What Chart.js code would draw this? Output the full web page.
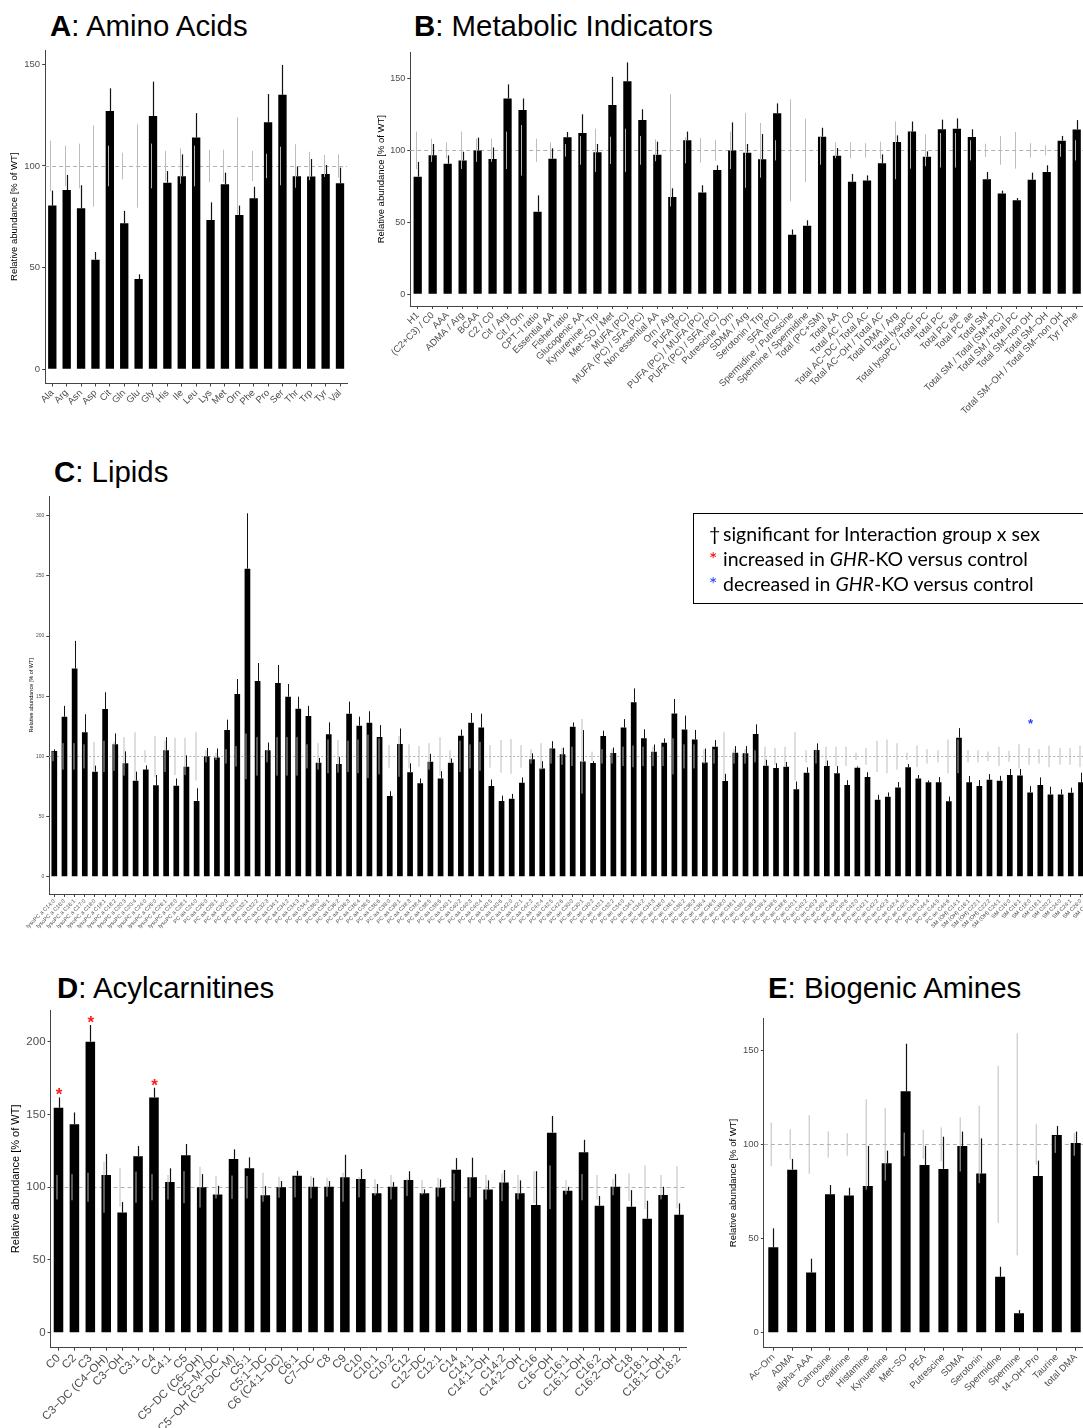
<!DOCTYPE html>
<html>
<head>
<meta charset="utf-8">
<script src="https://cdn.jsdelivr.net/npm/chart.js"></script>
<style>
body{margin:0;width:1083px;height:1428px;overflow:hidden;background:#fff;position:relative;font-family:"Liberation Sans",Arial,sans-serif}
canvas{position:absolute}
.ttl{position:absolute;font-size:29.4px;line-height:29.4px;white-space:nowrap;color:#000}
#legC{position:absolute;left:693px;top:513px;width:420px;height:91px;border:1px solid #000;font-family:Lato,"Open Sans",sans-serif;font-size:19.5px;line-height:25px;padding-top:7px;box-sizing:border-box;padding-left:15px}
#legC .s{display:inline-block;width:14px}
</style>
</head>
<body>
<div class="ttl" style="left:50px;top:11px"><b>A</b>: Amino Acids</div>
<div class="ttl" style="left:414px;top:11px"><b>B</b>: Metabolic Indicators</div>
<div class="ttl" style="left:54px;top:457px"><b>C</b>: Lipids</div>
<div class="ttl" style="left:57px;top:973px"><b>D</b>: Acylcarnitines</div>
<div class="ttl" style="left:768px;top:973px"><b>E</b>: Biogenic Amines</div>

<canvas id="chartA"></canvas>
<canvas id="chartB"></canvas>
<canvas id="chartC"></canvas>
<canvas id="chartD"></canvas>
<canvas id="chartE"></canvas>

<div id="legC">
  <div><span class="s">†</span>significant for Interaction group x sex</div>
  <div><span class="s" style="color:#e00">*</span>increased in <i>GHR</i>-KO versus control</div>
  <div><span class="s" style="color:#2040ff">*</span>decreased in <i>GHR</i>-KO versus control</div>
</div>

<script>
Chart.defaults.font.family = '"Liberation Sans", Arial, sans-serif';

// A: Amino Acids
const labelsA = ['Ala','Arg','Asn','Asp','Cit','Gln','Glu','Gly','His','Ile','Leu','Lys','Met','Orn','Phe','Pro','Ser','Thr','Trp','Tyr','Val'];
const valsA = [80.5, 88.2, 79.2, 53.9, 127, 71.8, 44.4, 124.6, 91.8, 95, 114, 73.4, 91, 75.9, 84.1, 121.5, 135, 95, 94.8, 96, 91.5];
const errA = [7.4, 7.4, 11.3, 3.8, 11.2, 6.1, 2.3, 16.9, 5.7, 10.7, 12, 8.7, 5.7, 4.6, 5.7, 13.9, 14.7, 4.7, 8.6, 4.5, 7.7];
const wtA = [12.5, 10, 11, 20, 10, 6.5, 20.5, 11, 7.4, 8.7, 10, 8, 8, 24, 7.4, 6, 9.5, 10.7, 7, 5.4, 5.7];
const ticksA = [0, 50, 100, 150];

// B: Metabolic Indicators
const labelsB = ['H1','(C2+C3) / C0','AAA','ADMA / Arg','BCAA','C2 / C0','Cit / Arg','Cit / Orn','CPT−I ratio','Essential AA',
  'Fisher ratio','Glucogenic AA','Kynurenine / Trp','Met−SO / Met','MUFA (PC)','MUFA (PC) / SFA (PC)','Non essential AA','Orn / Arg','PUFA (PC)','PUFA (PC) / MUFA (PC)',
  'PUFA (PC) / SFA (PC)','Putrescine / Orn','SDMA / Arg','Serotonin / Trp','SFA (PC)','Spermidine / Putrescine','Spermine / Spermidine','Total (PC+SM)','Total AA','Total AC / C0',
  'Total AC−DC / Total AC','Total AC−OH / Total AC','Total DMA / Arg','Total lysoPC','Total lysoPC / Total PC','Total PC','Total PC aa','Total PC ae','Total SM','Total SM / Total (SM+PC)',
  'Total SM / Total PC','Total SM−non OH','Total SM−OH','Total SM−OH / Total SM−non OH','Tyr / Phe'];
const valsB = [81.7, 96.5, 90.7, 93, 99.8, 94, 136, 128, 57.4, 94.2, 109, 112, 98.6, 131.5, 148, 121, 97, 67.6, 107, 70.8,
  86.3, 99.8, 98.4, 93.8, 125.7, 41.4, 47.7, 109.5, 96.3, 78.2, 79, 91, 105.8, 113, 95.6, 114.6, 115, 109.3, 80, 70,
  65.3, 79.6, 85, 106.7, 114.4];
const errB = [10.3, 7.9, 5.8, 6, 9, 8, 9.8, 8, 11.3, 7.2, 3.7, 13, 5.8, 19.5, 13, 7.5, 9, 6, 6, 4.9,
  3.3, 19.6, 6, 17.5, 6.9, 3.6, 3.7, 6.2, 5.3, 5.4, 3.6, 6.2, 4.6, 7, 3.7, 6.7, 7.2, 5.3, 5, 2,
  1.6, 4.9, 4.6, 3.3, 6.6];
const wtB = [13, 8, 5.5, 13, 8, 8, 13, 17.6, 8, 5.5, 4.4, 10, 15, 9.5, 15, 10, 7.6, 39, 9, 8.6,
  7.2, 13, 26, 19, 7, 35.4, 22, 10, 5.5, 5.5, 5, 6, 20, 12.7, 11, 12, 12, 7, 4.6, 10,
  12.7, 5, 3.5, 4.5, 7];
const ticksB = [0, 50, 100, 150];

// C: Lipids
const lysoChains = ['C14:0','C16:0','C16:1','C17:0','C18:0','C18:1','C18:2','C20:3','C20:4','C24:0','C26:0','C26:1','C28:0','C28:1'];
const pcAaChains = ['C24:0','C26:0','C28:1','C30:0','C32:0','C32:1','C32:2','C32:3','C34:1','C34:2','C34:3','C34:4','C36:0','C36:1','C36:2','C36:3','C36:4','C36:5','C36:6',
  'C38:0','C38:1','C38:3','C38:4','C38:5','C38:6','C40:1','C40:2','C40:3','C40:4','C40:5','C40:6','C42:0','C42:1','C42:2','C42:4','C42:5','C42:6'];
const pcAeChains = ['C30:0','C30:1','C30:2','C32:1','C32:2','C34:0','C34:1','C34:2','C34:3','C36:0','C36:1','C36:2','C36:3','C36:4','C36:5',
  'C38:0','C38:1','C38:2','C38:3','C38:4','C38:5','C38:6','C40:1','C40:2','C40:3','C40:4','C40:5','C40:6','C42:0','C42:1','C42:2','C42:3','C42:4','C42:5',
  'C44:3','C44:4','C44:5','C44:6'];
const smOhChains = ['C14:1','C16:1','C22:1','C22:2','C24:1'];
const smChains = ['C16:0','C16:1','C18:0','C18:1','C20:2','C24:0','C24:1','C26:0','C26:1'];
const labelsC = [].concat(
  lysoChains.map(c => 'lysoPC a ' + c),
  pcAaChains.map(c => 'PC aa ' + c),
  pcAeChains.map(c => 'PC ae ' + c),
  smOhChains.map(c => 'SM (OH) ' + c),
  smChains.map(c => 'SM ' + c));
const valsC = [104.4, 133, 173, 120, 87.3, 139.3, 110, 94.2, 79.8, 89, 76, 105, 75.6, 91.4,
  63, 100, 99, 122, 151.8, 256, 162.6, 105, 161, 149.6, 139.6, 133.5, 94.7, 118.3, 93.6, 135.5, 125.5, 128, 116,
  67, 110.2, 86.7, 77.6, 95.6, 81.7, 94.7, 117.2, 128, 124, 75.3, 62.9, 64.8, 78, 97.5, 90, 106.6, 101.7,
  124.7, 95.8, 94.5, 116.9, 102.8, 124, 145, 115, 103.9, 111.4, 135.7, 122.4, 114, 95, 108,
  79.5, 103, 102.5, 118.6, 92.2, 90.3, 91.4, 72.6, 86.4, 105.3, 92, 85.9, 76.2, 90.6, 82.8, 64, 66.5, 74.2, 90.9,
  81.7, 78.4, 78.4, 62.6,
  115.5, 78.4, 75.3, 80.6, 79.8,
  84.5, 84.2, 70, 76.2, 68.4, 68.4, 69.8, 78.4, 80];
const errC = [1.5, 9, 23, 15, 5, 14, 9, 10, 7.5, 3.5, 8.5, 11, 6, 9.5,
  10.5, 7, 7.5, 8.5, 12.5, 46, 15, 6.5, 15, 10.5, 10, 8.5, 4, 10, 6, 10, 7.5, 9.5, 10,
  4, 13, 7.5, 4, 6.5, 6, 3.5, 5, 8, 11.5, 5.5, 4.5, 4, 4.5, 5, 6, 6, 5.5,
  3.5, 26, 1.5, 4.5, 4.5, 7, 11.5, 7.5, 6, 3.5, 12, 11.5, 8, 11.5, 5.5,
  6, 5.5, 6, 8, 5, 4, 4, 6.5, 4.5, 5.5, 4.5, 6, 4, 1, 4, 4, 3.5, 4.5, 2.7,
  2.8, 1.6, 4.4, 4,
  8, 5.3, 5, 4.7, 4,
  5, 5.3, 5.3, 6.3, 6.4, 4.2, 4.2, 8, 5];
const wtC = [4, 11, 11, 10, 12, 13, 12, 16, 20, 5, 17, 13, 15.5, 15.5,
  20, 5, 3, 6, 8.5, 19, 16, 5, 16, 16, 16, 10, 11, 14, 13.6, 13, 14, 18, 15,
  9.4, 17, 10, 8.6, 11, 16, 5, 13, 10, 12, 9.4, 13.6, 14.4, 9.4, 6, 11, 6, 7,
  8, 31, 4, 6, 6, 8, 9, 8, 8, 8, 15, 10, 10, 6, 6,
  20, 6, 6, 5, 8, 7, 8, 20, 5, 6, 8, 8, 8, 3, 7, 13, 14, 11, 3,
  9, 6, 5, 14,
  14, 5, 5, 4, 8,
  4.5, 10, 7, 6, 9, 7, 7, 9, 8];
const ticksC = [0, 50, 100, 150, 200, 250, 300];
const starsC = [{label: 'SM C18:0', at: 129.6, color: '#2040ff'}];

// D: Acylcarnitines
const labelsD = ['C0','C2','C3','C3−DC (C4−OH)','C3−OH','C3:1','C4','C4:1','C5','C5−DC (C6−OH)',
  'C5−M−DC','C5−OH (C3−DC−M)','C5:1','C5:1−DC','C6 (C4:1−DC)','C6:1','C7−DC','C8','C9','C10',
  'C10:1','C10:2','C12','C12−DC','C12:1','C14','C14:1','C14:1−OH','C14:2','C14:2−OH',
  'C16','C16−OH','C16:1','C16:1−OH','C16:2','C16:2−OH','C18','C18:1','C18:1−OH','C18:2'];
const valsD = [154.6, 143.2, 200, 108.4, 82.7, 121.2, 161.7, 103.5, 121.9, 99.9,
  95, 119.4, 113, 94.4, 99.9, 107.9, 100.3, 100.3, 106.8, 105.6,
  95.8, 100.3, 104.9, 95.8, 99.7, 112, 106.8, 98.5, 103.3, 95.8,
  87.7, 137.5, 97.6, 124, 87.3, 100.3, 86.6, 78.3, 94.6, 81];
const errD = [7.1, 8.2, 11.5, 14.4, 7.1, 7.1, 6.7, 9.5, 7.8, 9.1,
  6, 6.6, 7.5, 6.4, 4.3, 3.4, 6.2, 3.9, 15.5, 6.9,
  6.4, 3.2, 6.1, 2.7, 5.7, 8, 13.5, 6.2, 8.5, 8.9,
  23.3, 11.5, 2.7, 8.6, 6.7, 8.7, 11.4, 12.4, 5.7, 7.9];
const wtD = [8.4, 9, 10, 17.5, 13.4, 10.7, 9, 8.4, 11, 14,
  7.7, 8, 7.7, 10, 7.2, 7, 7.7, 6.5, 10, 7,
  5.6, 8.4, 6, 5, 6.5, 9.5, 7, 8.4, 9.5, 8.4,
  11, 15, 5, 9, 8.4, 5.6, 9.5, 15, 8.4, 14.5];
const ticksD = [0, 50, 100, 150, 200];
const starsD = [{label: 'C0', color: '#ff1a1a'}, {label: 'C3', color: '#ff1a1a'}, {label: 'C4', color: '#ff1a1a'}];

// E: Biogenic Amines
const labelsE = ['Ac−Orn','ADMA','alpha−AAA','Carnosine','Creatinine','Histamine','Kynurenine','Met−SO','PEA',
  'Putrescine','SDMA','Serotonin','Spermidine','Spermine','t4−OH−Pro','Taurine','total DMA'];
const valsE = [45.3, 86.6, 31.9, 73.5, 72.8, 77.9, 90, 128.2, 89, 87, 99.2, 84.5, 29.7, 10.3, 83.2, 105, 100.8];
const errE = [10.1, 5.7, 7.4, 4.9, 4.2, 21.3, 6.7, 25.3, 10.2, 17.1, 7.6, 18.7, 5.3, 1.7, 8.2, 4.8, 6];
const wtE = [11.6, 8, 15.6, 7, 6, 24, 19.2, 6.3, 7.7, 9, 14.4, 20.6, 41.8, 59, 10.7, 4.5, 6];
const ticksE = [0, 50, 100, 150];

// error bars (KO black, WT grey around 100) + dashed reference line + stars
function makeErrorBars(err, wt, o) {
  return {
    id: 'errorBars',
    beforeDatasetsDraw(chart) {
      const {ctx, chartArea: a} = chart;
      const py = Math.round(chart.scales.y.getPixelForValue(100)) + 0.5;
      ctx.save();
      ctx.strokeStyle = '#b0b0b0';
      ctx.lineWidth = 1;
      ctx.setLineDash(o.dash);
      ctx.beginPath();
      ctx.moveTo(a.left, py);
      ctx.lineTo(a.right, py);
      ctx.stroke();
      ctx.restore();
    },
    afterDatasetsDraw(chart) {
      const {ctx} = chart;
      const y = chart.scales.y;
      const vals = chart.data.datasets[0].data;
      const bars = chart.getDatasetMeta(0).data;
      ctx.save();
      bars.forEach((bar, i) => {
        const x = Math.round(bar.x) + 0.5;
        ctx.strokeStyle = '#111';
        ctx.lineWidth = o.lw;
        ctx.beginPath();
        ctx.moveTo(x, y.getPixelForValue(vals[i]));
        ctx.lineTo(x, y.getPixelForValue(vals[i] + err[i]));
        ctx.stroke();
        ctx.strokeStyle = 'rgba(185,185,185,0.95)';
        ctx.lineWidth = 1;
        ctx.beginPath();
        ctx.moveTo(x + o.grayDx, y.getPixelForValue(100 - wt[i]));
        ctx.lineTo(x + o.grayDx, y.getPixelForValue(100 + wt[i]));
        ctx.stroke();
      });
      const fs = o.starFont || 12;
      ctx.font = 'bold ' + fs + 'px "Liberation Sans", Arial, sans-serif';
      ctx.textAlign = 'center';
      ctx.textBaseline = 'alphabetic';
      (o.stars || []).forEach(st => {
        const i = chart.data.labels.indexOf(st.label);
        if (i < 0) return;
        const cy = (st.at !== undefined) ? y.getPixelForValue(st.at) : y.getPixelForValue(vals[i] + err[i]) - 7;
        ctx.fillStyle = st.color;
        ctx.fillText('*', bars[i].x + 0.5, cy + fs * 0.58);
      });
      ctx.restore();
    }
  };
}

function panel(id, labels, vals, errs, wts, o) {
  const cv = document.getElementById(id);
  cv.width = o.cw;
  cv.height = o.ch;
  cv.style.left = o.cx + 'px';
  cv.style.top = o.cy + 'px';
  const lh = o.titleFont * 1.2;
  const axisCol = '#444';
  return new Chart(cv, {
    type: 'bar',
    data: {
      labels: labels,
      datasets: [{data: vals, backgroundColor: '#000', borderWidth: 0, barPercentage: o.barPct, categoryPercentage: 1}]
    },
    options: {
      responsive: false,
      animation: false,
      devicePixelRatio: 1,
      layout: {padding: {left: 0, top: o.t - o.cy, right: o.cx + o.cw - o.r, bottom: 0}},
      plugins: {legend: {display: false}, tooltip: {enabled: false}},
      scales: {
        x: {
          type: 'category',
          offset: true,
          grid: {offset: false, drawOnChartArea: false, drawTicks: true, tickLength: 3, tickColor: axisCol},
          border: {display: true, color: axisCol, width: 1},
          ticks: {autoSkip: false, minRotation: 45, maxRotation: 45, padding: 1, color: '#4d4d4d', font: {size: o.xFont}},
          afterFit: s => { s.height = o.cy + o.ch - o.b; }
        },
        y: {
          min: o.min,
          max: o.max,
          grid: {drawOnChartArea: false, drawTicks: true, tickLength: 3, tickColor: axisCol},
          border: {display: true, color: axisCol, width: 1},
          ticks: {color: '#4d4d4d', font: {size: o.yFont}, padding: 2},
          afterBuildTicks: s => { s.ticks = o.ticks.map(v => ({value: v})); },
          title: {display: true, text: 'Relative abundance [% of WT]', color: '#000', font: {size: o.titleFont},
            padding: {top: o.titleX - o.cx - lh / 2, bottom: 0}},
          afterFit: s => { s.width = o.l - o.cx; }
        }
      }
    },
    plugins: [makeErrorBars(errs, wts, o)]
  });
}

function area(firstX, lastX, n) {
  const s = (lastX - firstX) / (n - 1);
  return {l: firstX - s / 2, r: lastX + s / 2};
}

const aA = area(52.3, 340, labelsA.length);
panel('chartA', labelsA, valsA, errA, wtA, {cx: 0, cy: 40, cw: 362, ch: 380, l: aA.l, r: aA.r, t: 50.1, b: 383.5,
  min: -7, max: 157, ticks: ticksA, xFont: 9.5, yFont: 9.5, titleFont: 9.5, titleX: 14, barPct: 0.58, dash: [4, 3], lw: 1.2, grayDx: -2});

const aB = area(417.7, 1076.7, labelsB.length);
panel('chartB', labelsB, valsB, errB, wtB, {cx: 370, cy: 40, cw: 730, ch: 395, l: aB.l, r: aB.r, t: 52.4, b: 306,
  min: -8.1, max: 168, ticks: ticksB, xFont: 9.5, yFont: 9, titleFont: 9.5, titleX: 381.7, barPct: 0.55, dash: [4, 3], lw: 1.2, grayDx: -2});

const aC = area(54.3, 54.3 + 102 * 10.165, labelsC.length);
panel('chartC', labelsC, valsC, errC, wtC, {cx: 0, cy: 490, cw: 1110, ch: 450, l: aC.l, r: aC.r, t: 496.5, b: 894,
  min: -14.4, max: 316, ticks: ticksC, xFont: 5.5, yFont: 5, titleFont: 5.5, titleX: 31.7, barPct: 0.56, dash: [2, 2], lw: 1, grayDx: -1.5,
  stars: starsC, starFont: 13});

const aD = area(58.5, 679, labelsD.length);
panel('chartD', labelsD, valsD, errD, wtD, {cx: 0, cy: 1000, cw: 700, ch: 428, l: aD.l, r: aD.r, t: 1010, b: 1347.7,
  min: -10.3, max: 221.8, ticks: ticksD, xFont: 11.5, yFont: 11.5, titleFont: 11, titleX: 15.6, barPct: 0.6, dash: [4, 3], lw: 1.2, grayDx: -2.5,
  stars: starsD, starFont: 17});

const aE = area(773.3, 1075.7, labelsE.length);
panel('chartE', labelsE, valsE, errE, wtE, {cx: 725, cy: 1005, cw: 375, ch: 423, l: aE.l, r: aE.r, t: 1018.3, b: 1347.7,
  min: -8, max: 167, ticks: ticksE, xFont: 9.5, yFont: 9.5, titleFont: 9.5, titleX: 733.3, barPct: 0.53, dash: [4, 3], lw: 1.2, grayDx: -2.3});
</script>
</body>
</html>
